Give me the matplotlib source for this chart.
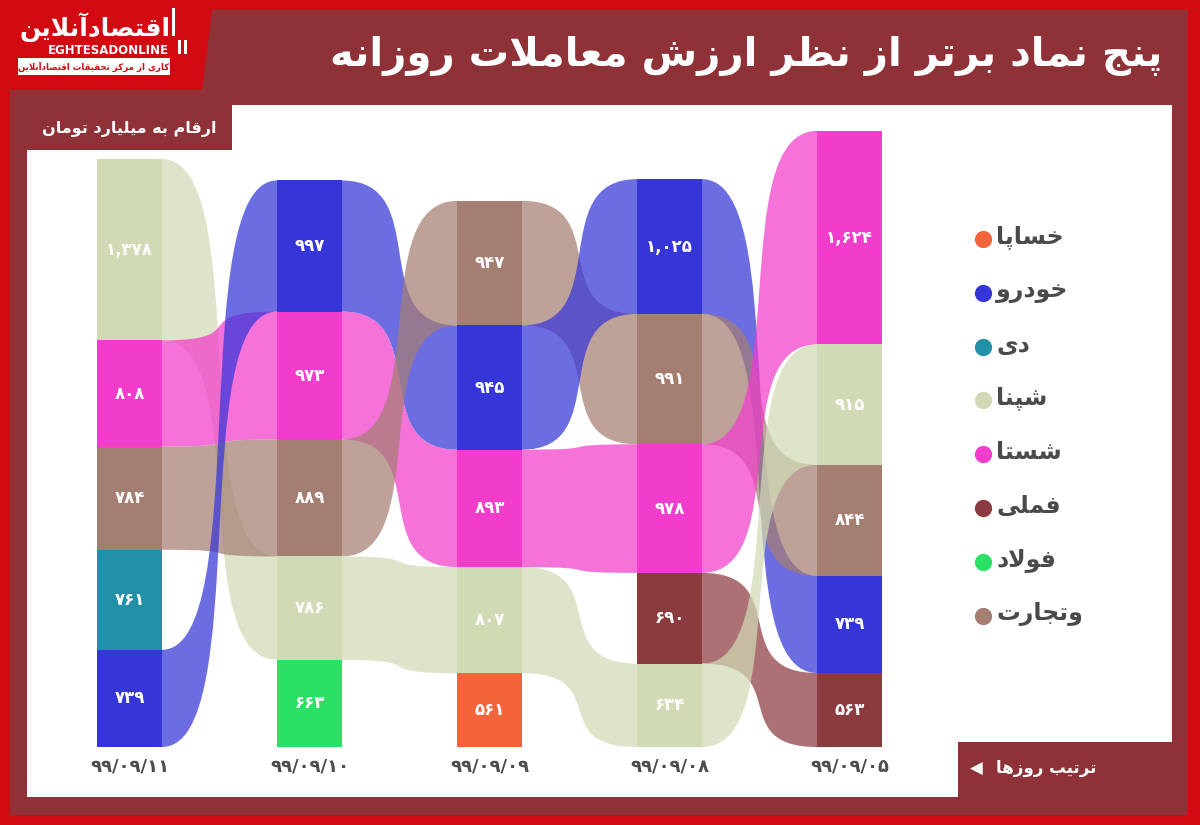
import matplotlib.pyplot as plt
from matplotlib.path import Path
from matplotlib.patches import PathPatch, Rectangle, Polygon

# روزها (از چپ به راست همان ترتیب تصویر)
dates = ['۹۹/۰۹/۱۱', '۹۹/۰۹/۱۰', '۹۹/۰۹/۰۹', '۹۹/۰۹/۰۸', '۹۹/۰۹/۰۵']

# نمادهای هر روز از بالا به پایین
symbols_d11 = ['شپنا', 'شستا', 'وتجارت', 'دی', 'خودرو']
symbols_d10 = ['خودرو', 'شستا', 'وتجارت', 'شپنا', 'فولاد']
symbols_d09 = ['وتجارت', 'خودرو', 'شستا', 'شپنا', 'خساپا']
symbols_d08 = ['خودرو', 'وتجارت', 'شستا', 'فملی', 'شپنا']
symbols_d05 = ['شستا', 'شپنا', 'وتجارت', 'خودرو', 'فملی']

# ارزش معاملات (میلیارد تومان)
values_d11 = [1378, 808, 784, 761, 739]
values_d10 = [997, 973, 889, 786, 663]
values_d09 = [947, 945, 893, 807, 561]
values_d08 = [1025, 991, 978, 690, 634]
values_d05 = [1624, 915, 844, 739, 563]

legend_symbols = ['خساپا', 'خودرو', 'دی', 'شپنا', 'شستا', 'فملی', 'فولاد', 'وتجارت']
legend_colors = ['#F4643A', '#3535D8', '#2290A8', '#D0DAB4', '#F23CCB',
                 '#8B3A3E', '#2BE065', '#A57E72']

title = 'پنج نماد برتر از نظر ارزش معاملات روزانه'
unit_note = 'ارقام به میلیارد تومان'
order_note = 'ترتیب روزها'

days_symbols = [symbols_d11, symbols_d10, symbols_d09, symbols_d08, symbols_d05]
days_values = [values_d11, values_d10, values_d09, values_d08, values_d05]
color_of = dict(zip(legend_symbols, legend_colors))

BRIGHT = '#D10A12'
DARK = '#8E3237'

# ---- simple arabic/persian shaping (matplotlib has no complex text layout)
FORMS = {
    'ا': ('\uFE8D', '\uFE8E', None, None), 'آ': ('\uFE81', '\uFE82', None, None),
    'د': ('\uFEA9', '\uFEAA', None, None), 'ر': ('\uFEAD', '\uFEAE', None, None),
    'ز': ('\uFEAF', '\uFEB0', None, None), 'و': ('\uFEED', '\uFEEE', None, None),
    'ب': ('\uFE8F', '\uFE90', '\uFE91', '\uFE92'), 'پ': ('\uFB56', '\uFB57', '\uFB58', '\uFB59'),
    'ت': ('\uFE95', '\uFE96', '\uFE97', '\uFE98'), 'ج': ('\uFE9D', '\uFE9E', '\uFE9F', '\uFEA0'),
    'ح': ('\uFEA1', '\uFEA2', '\uFEA3', '\uFEA4'), 'خ': ('\uFEA5', '\uFEA6', '\uFEA7', '\uFEA8'),
    'س': ('\uFEB1', '\uFEB2', '\uFEB3', '\uFEB4'), 'ش': ('\uFEB5', '\uFEB6', '\uFEB7', '\uFEB8'),
    'ص': ('\uFEB9', '\uFEBA', '\uFEBB', '\uFEBC'), 'ظ': ('\uFEC5', '\uFEC6', '\uFEC7', '\uFEC8'),
    'ع': ('\uFEC9', '\uFECA', '\uFECB', '\uFECC'), 'ف': ('\uFED1', '\uFED2', '\uFED3', '\uFED4'),
    'ق': ('\uFED5', '\uFED6', '\uFED7', '\uFED8'), 'ک': ('\uFB8E', '\uFB8F', '\uFB90', '\uFB91'),
    'ل': ('\uFEDD', '\uFEDE', '\uFEDF', '\uFEE0'), 'م': ('\uFEE1', '\uFEE2', '\uFEE3', '\uFEE4'),
    'ن': ('\uFEE5', '\uFEE6', '\uFEE7', '\uFEE8'), 'ه': ('\uFEE9', '\uFEEA', '\uFEEB', '\uFEEC'),
    'ی': ('\uFBFC', '\uFBFD', '\uFBFE', '\uFBFF'),
}
LAM_ALEF = {'ا': ('\uFEFB', '\uFEFC'), 'آ': ('\uFEF5', '\uFEF6')}


def shape(text):
    res = []
    i = 0
    prev_joins = False
    while i < len(text):
        c = text[i]
        if c not in FORMS:
            res.append(c)
            prev_joins = False
            i += 1
            continue
        nxt = text[i + 1] if i + 1 < len(text) else ''
        if c == 'ل' and nxt in LAM_ALEF:
            res.append(LAM_ALEF[nxt][1 if prev_joins else 0])
            prev_joins = False
            i += 2
            continue
        dual = FORMS[c][2] is not None
        to_next = dual and nxt in FORMS
        if prev_joins and to_next:
            f = 3
        elif prev_joins:
            f = 1
        elif to_next:
            f = 2
        else:
            f = 0
        res.append(FORMS[c][f])
        prev_joins = dual
        i += 1
    return ''.join(reversed(res))


def fa_num(v):
    return f'{v:,}'.translate(str.maketrans('0123456789', '۰۱۲۳۴۵۶۷۸۹'))


plt.rcParams['font.family'] = ['DejaVu Sans']

fig = plt.figure(figsize=(12, 8.25), dpi=100)
fig.patch.set_facecolor(BRIGHT)

# background frame in pixel coordinates
bg = fig.add_axes([0, 0, 1, 1])
bg.set_xlim(0, 1200)
bg.set_ylim(825, 0)
bg.axis('off')
bg.add_patch(Polygon([(212, 10), (1188, 10), (1188, 815), (10, 815), (10, 90), (202, 90)],
                     closed=True, facecolor=DARK, edgecolor='none'))
bg.add_patch(Polygon([(232, 105), (1172, 105), (1172, 742), (958, 742), (958, 797),
                      (27, 797), (27, 150), (232, 150)],
                     closed=True, facecolor='white', edgecolor='none'))

bg.text(1163, 56, shape(title), ha='right', va='center', fontsize=29,
        fontweight='bold', color='white')
bg.text(217, 129, shape(unit_note), ha='right', va='center', fontsize=11.5,
        fontweight='bold', color='white')
bg.text(1097, 768, shape(order_note), ha='right', va='center', fontsize=12,
        fontweight='bold', color='white')
bg.text(976, 769, '◀', ha='center', va='center', fontsize=12, color='white')

# logo
bg.text(95, 27, shape('اقتصادآنلاین'), ha='center', va='center', fontsize=18,
        fontweight='bold', color='white')
bg.text(108, 50, 'EGHTESADONLINE', ha='center', va='center', fontsize=8.5,
        fontweight='bold', color='white')
bg.add_patch(Rectangle((18, 58), 152, 17, facecolor='white', edgecolor='none'))
bg.text(94, 66.5, shape('کاری از مرکز تحقیقات اقتصادآنلاین'), ha='center', va='center',
        fontsize=6.2, fontweight='bold', color=BRIGHT)
for bx, by, bh in [(172, 8, 28), (178, 40, 14), (184, 40, 14)]:
    bg.add_patch(Rectangle((bx, by), 3, bh, facecolor='white', edgecolor='none'))

# legend
for k, (sym, col) in enumerate(zip(legend_symbols, legend_colors)):
    yk = 239 + 53.8 * k
    bg.scatter([983], [yk], s=130, color=col, zorder=3)
    bg.text(996, yk - 2, shape(sym), ha='left', va='center', fontsize=17,
            fontweight='bold', color='#4A4A4A')

# sankey-like chart
ax = fig.add_axes([30 / 1200, (825 - 747) / 825, 900 / 1200, 647 / 825])
ax.set_xlim((30 - 129.5) / 180, (30 - 129.5) / 180 + 5.0)
ax.set_ylim(0, 4920)
ax.axis('off')
ax.patch.set_alpha(0)

hw = 0.18
curv = 0.8
nodes = []
for syms, vals in zip(days_symbols, days_values):
    top = sum(vals)
    col = {}
    for s, v in zip(syms, vals):
        col[s] = (top - v, top, v)
        top -= v
    nodes.append(col)


def band(x0, b0, t0, x1, b1, t1):
    g = (x1 - x0) * curv
    verts = [(x0, t0), (x0 + g, t0), (x1 - g, t1), (x1, t1),
             (x1, b1), (x1 - g, b1), (x0 + g, b0), (x0, b0), (x0, t0)]
    codes = [Path.MOVETO, Path.CURVE4, Path.CURVE4, Path.CURVE4,
             Path.LINETO, Path.CURVE4, Path.CURVE4, Path.CURVE4, Path.CLOSEPOLY]
    return Path(verts, codes)


for i in range(len(nodes) - 1):
    for s in days_symbols[i]:
        if s in nodes[i + 1]:
            b0, t0, _ = nodes[i][s]
            b1, t1, _ = nodes[i + 1][s]
            p = band(i + hw, b0, t0, i + 1 - hw, b1, t1)
            ax.add_patch(PathPatch(p, facecolor=color_of[s], edgecolor='none',
                                   alpha=0.72, zorder=1))

for i, col in enumerate(nodes):
    for s, (b, t, v) in col.items():
        ax.add_patch(Rectangle((i - hw, b), 2 * hw, v, facecolor=color_of[s],
                               edgecolor='none', zorder=2))
        ax.text(i, (b + t) / 2, fa_num(v), ha='center', va='center', fontsize=12,
                fontweight='bold', color='white', zorder=3)
    ax.annotate(dates[i], xy=(i, 0), xytext=(0, -14), textcoords='offset points',
                ha='center', va='center', fontsize=13, fontweight='bold',
                color='#4D4D4D', annotation_clip=False)

fig.savefig('out.png', dpi=100, facecolor=BRIGHT)
